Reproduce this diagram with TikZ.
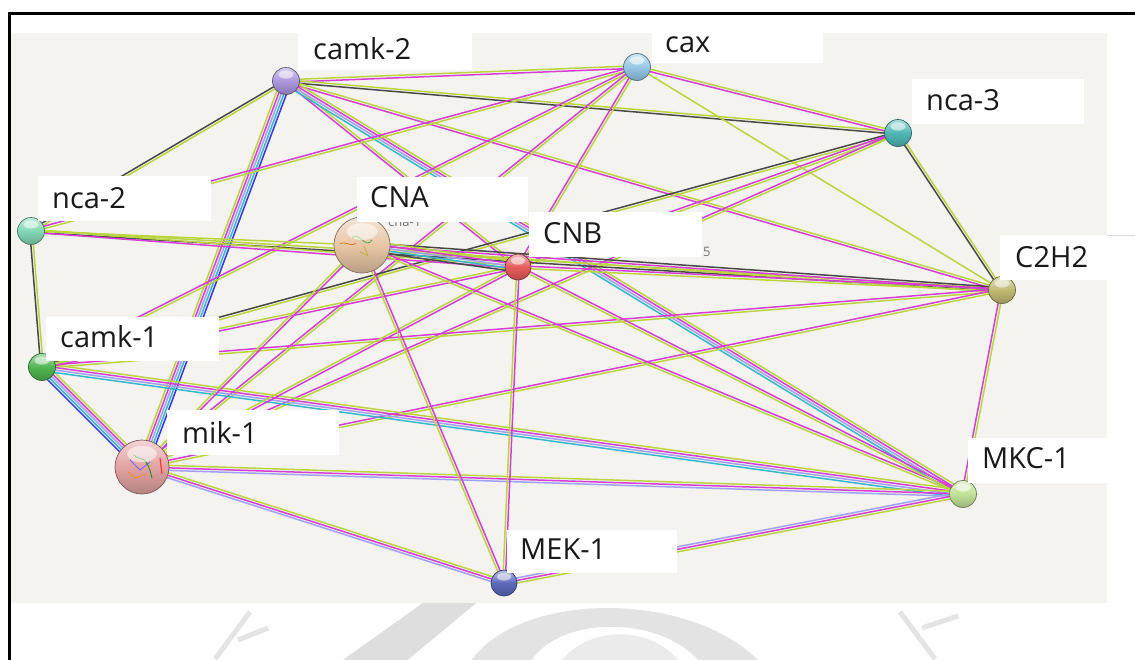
\documentclass[tikz,border=0pt]{standalone}
\usepackage{fontspec}
\setmainfont{Open Sans}
\usetikzlibrary{calc}
\definecolor{cM}{RGB}{212,62,212}
\definecolor{cY}{RGB}{186,212,62}
\definecolor{cK}{RGB}{72,72,72}
\definecolor{cC}{RGB}{52,184,204}
\definecolor{cL}{RGB}{160,160,248}
\definecolor{cB}{RGB}{52,52,236}
\definecolor{panelgray}{RGB}{244,243,240}
\definecolor{wmgray}{RGB}{222,222,222}
\definecolor{bcamkb}{RGB}{170,150,222}
\definecolor{bcax}{RGB}{150,200,230}
\definecolor{bncac}{RGB}{80,182,182}
\definecolor{bncab}{RGB}{130,215,180}
\definecolor{bcna}{RGB}{232,198,165}
\definecolor{bcnb}{RGB}{232,92,92}
\definecolor{bczh}{RGB}{192,186,112}
\definecolor{bcamka}{RGB}{80,182,80}
\definecolor{bmik}{RGB}{226,162,162}
\definecolor{bmkc}{RGB}{192,226,152}
\definecolor{bmek}{RGB}{92,106,188}
\pgfdeclarelayer{bgpanel}\pgfdeclarelayer{edges}\pgfdeclarelayer{labels}
\pgfsetlayers{bgpanel,edges,main,labels}
\newcommand\bund[4]{%
  \foreach \cc [count=\ii] in {#4}{%
    \pgfmathsetmacro\oo{(\ii-(#3+1)/2)*2.5}%
    \draw[line width=1.5pt,\cc] ($(#1)!\oo pt!90:(#2)$) -- ($(#2)!\oo pt!-90:(#1)$);}}
% glossy highlight on a ball: #1 node name, #2 radius
\newcommand\gloss[2]{%
  \fill[white,opacity=0.55] ($(#1.center)+(0,-0.48*#2)$) ellipse [x radius=0.55*#2, y radius=0.3*#2];}
\begin{document}
\begin{tikzpicture}[x=1pt,y=-1pt,
  sball/.style={circle,inner sep=0pt,draw=#1!55!black,line width=0.7pt,
     top color=#1!45!white,bottom color=#1!80!black,middle color=#1},
  labbox/.style={fill=white},
  labtext/.style={anchor=base west,inner sep=0pt,text=black!90,font=\fontsize{29}{29}\selectfont},
  faint/.style={anchor=base west,inner sep=0pt,text=black!55,font=\fontsize{13}{13}\selectfont}]
\useasboundingbox (0,0) rectangle (1135,659);
\begin{pgfonlayer}{bgpanel}
  \fill[white] (0,0) rectangle (1135,659);
  % watermark (faint seal)
  \fill[wmgray] (427,600) -- (480,600) -- (405,662) -- (340,662) -- cycle;
  \fill[wmgray!85] (470,662) .. controls (520,590) and (690,590) .. (760,662) -- (700,662) .. controls (660,615) and (560,615) .. (530,662) -- cycle;
  \fill[wmgray!60] (560,662) .. controls (590,625) and (650,625) .. (680,662) -- cycle;
  \draw[wmgray!80,line width=5pt] (215,659) -- (250,612) (238,640) -- (268,628);
  \draw[wmgray!80,line width=5pt] (900,612) -- (935,659) (922,628) -- (958,616);
  \fill[panelgray] (10,33) rectangle (1107,603);
  \draw[black!15,line width=0.8pt] (1107,235) -- (1135,235);
  \draw[line width=3pt] (9,1000) -- (9,13.5) -- (1300,13.5);
\end{pgfonlayer}
% nodes
\node[sball=bcamkb,minimum size=27] (camk2) at (286,81) {};
\node[sball=bcax,minimum size=27] (cax) at (637,67) {};
\node[sball=bncac,minimum size=27] (nca3) at (898,133) {};
\node[sball=bncab,minimum size=27] (nca2) at (31,231) {};
\node[sball=bcna,minimum size=56] (CNA) at (362,245) {};
\node[sball=bcnb,minimum size=26] (CNB) at (518,267) {};
\node[sball=bczh,minimum size=27] (C2H2) at (1002,290) {};
\node[sball=bcamka,minimum size=27] (camk1) at (42,367) {};
\node[sball=bmik,minimum size=54] (mik1) at (142,467) {};
\node[sball=bmkc,minimum size=27] (MKC1) at (963,494) {};
\node[sball=bmek,minimum size=26] (MEK1) at (504,583) {};
% tiny structures inside big balls
\draw[green!50!black!70,line width=0.8pt] (352,238) .. controls (358,230) and (366,250) .. (372,240);
\draw[orange!80!black,line width=0.6pt] (340,244) .. controls (346,240) and (350,248) .. (356,243);
\draw[yellow!70!black,line width=0.8pt] (360,252) -- (368,256) -- (364,246);
\draw[red!80,line width=1.2pt] (160,458) -- (162,474);
\draw[blue!60,line width=0.8pt] (130,460) -- (140,470) -- (150,462);
\draw[orange!90,line width=0.8pt] (128,472) -- (136,478) -- (146,474);
\draw[green!60!black,line width=0.8pt] (134,455) .. controls (140,462) and (146,452) .. (152,478);
\foreach \n/\r in {camk2/13.5,cax/13.5,nca3/13.5,nca2/13.5,CNA/28,CNB/13,C2H2/13.5,camk1/13.5,mik1/27,MKC1/13.5,MEK1/13}{\gloss{\n}{\r}}
\node[faint] (cnaold) at (388,226.5) {cna-1};
\node[faint] (cnbold) at (703,256) {5};
% edges
\begin{pgfonlayer}{edges}
\bund{camk2}{cax}{2}{cM,cY}
\bund{camk2}{nca3}{2}{cK,cY}
\bund{camk2}{nca2}{2}{cK,cY}
\bund{camk2}{C2H2}{2}{cM,cY}
\bund{camk2}{CNB}{2}{cM,cY}
\bund{camk2}{MKC1}{4}{cC,cL,cM,cY}
\bund{camk2}{mik1}{5}{cY,cM,cL,cC,cB}
\bund{cax}{nca3}{2}{cM,cY}
\bund{cax}{C2H2}{1}{cY}
\bund{cax}{nca2}{2}{cM,cY}
\bund{cax}{camk1}{2}{cM,cY}
\bund{cax}{CNB}{2}{cM,cY}
\bund{cax}{mik1}{2}{cM,cY}
\bund{nca3}{C2H2}{2}{cK,cY}
\bund{nca3}{camk1}{2}{cK,cY}
\bund{nca3}{CNB}{2}{cM,cY}
\bund{nca3}{mik1}{2}{cM,cY}
\bund{nca2}{camk1}{2}{cK,cY}
\bund{nca2}{C2H2}{2}{cK,cY}
\bund{nca2}{CNB}{2}{cM,cY}
\bund{nca2}{CNA}{1}{cY}
\bund{C2H2}{MKC1}{2}{cM,cY}
\bund{C2H2}{CNA}{3}{cK,cM,cY}
\bund{C2H2}{CNB}{2}{cM,cY}
\bund{C2H2}{camk1}{2}{cM,cY}
\bund{C2H2}{mik1}{2}{cM,cY}
\bund{camk1}{mik1}{5}{cB,cC,cL,cM,cY}
\bund{camk1}{MKC1}{4}{cC,cL,cM,cY}
\bund{camk1}{CNB}{2}{cM,cY}
\bund{mik1}{MKC1}{3}{cL,cM,cY}
\bund{mik1}{MEK1}{3}{cL,cM,cY}
\bund{mik1}{CNA}{2}{cM,cY}
\bund{mik1}{CNB}{2}{cM,cY}
\bund{MKC1}{CNA}{2}{cM,cY}
\bund{MKC1}{CNB}{2}{cM,cY}
\bund{MKC1}{MEK1}{3}{cL,cM,cY}
\bund{MEK1}{CNB}{2}{cM,cY}
\bund{MEK1}{CNA}{2}{cM,cY}
\bund{CNA}{CNB}{5}{cK,cC,cL,cM,cY}
\end{pgfonlayer}
% labels
\begin{pgfonlayer}{labels}
\fill[labbox] (298,27) rectangle (472,70);
\node[labtext] (tcamk2) at (313,59) {camk-2};
\fill[labbox] (652,18) rectangle (823,63);
\node[labtext] (tcax) at (665,52) {cax};
\fill[labbox] (912,79) rectangle (1084,124);
\node[labtext] (tnca3) at (926,110) {nca-3};
\fill[labbox] (38,176) rectangle (211,221);
\node[labtext] (tnca2) at (52,208) {nca-2};
\fill[labbox] (357,177) rectangle (528,222);
\node[labtext] (tCNA) at (370,207) {CNA};
\fill[labbox] (529,212) rectangle (702,257);
\node[labtext] (tCNB) at (543,243) {CNB};
\fill[labbox] (1000,235) rectangle (1107,280);
\node[labtext] (tC2H2) at (1015,267) {C2H2};
\fill[labbox] (46,317) rectangle (219,361);
\node[labtext] (tcamk1) at (60,347) {camk-1};
\fill[labbox] (167,410) rectangle (339,455);
\node[labtext] (tmik1) at (182,443) {mik-1};
\fill[labbox] (968,438) rectangle (1140,483);
\node[labtext] (tMKC1) at (982,468) {MKC-1};
\fill[labbox] (507,530) rectangle (677,573);
\node[labtext] (tMEK1) at (520,559) {MEK-1};
\end{pgfonlayer}
\end{tikzpicture}
\end{document}
